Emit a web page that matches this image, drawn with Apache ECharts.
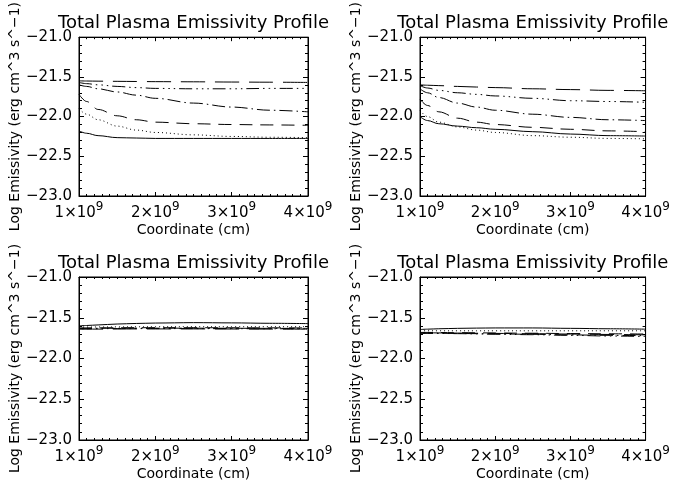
<!DOCTYPE html>
<html>
<head>
<meta charset="utf-8">
<script src="https://cdn.jsdelivr.net/npm/echarts@6/dist/echarts.min.js"></script>
<style>
html,body{margin:0;padding:0;background:#fff;}
#chart{width:673px;height:486px;}
</style>
</head>
<body>
<div id="chart"></div>
<script>
// ---- data ----
const xCoord = [1.0e9, 1.1e9, 1.25e9, 1.5e9, 1.75e9, 2.0e9, 2.5e9, 3.0e9, 3.5e9, 4.0e9]; // cm
const xTicks = ['1×10', '2×10', '3×10', '4×10'];
const yTicks = ['−23.0', '−22.5', '−22.0', '−21.5', '−21.0'];
const panelTitle = 'Total Plasma Emissivity Profile';
const xTitle = 'Coordinate (cm)';
const yTitle = 'Log Emissivity (erg cm^3 s^−1)';

// top-left panel
const tlSolid   = [-22.18, -22.21, -22.24, -22.265, -22.27, -22.275, -22.275, -22.275, -22.275, -22.275];
const tlDotted  = [-21.90, -21.97, -22.04, -22.12, -22.17, -22.20, -22.23, -22.25, -22.26, -22.265];
const tlDashed  = [-21.72, -21.81, -21.91, -21.99, -22.04, -22.07, -22.09, -22.10, -22.105, -22.11];
const tlDashDot = [-21.60, -21.62, -21.65, -21.69, -21.73, -21.77, -21.83, -21.88, -21.92, -21.94];
const tlDash3Dot= [-21.57, -21.585, -21.60, -21.62, -21.635, -21.645, -21.65, -21.65, -21.645, -21.645];
const tlLong    = [-21.55, -21.552, -21.554, -21.556, -21.558, -21.56, -21.562, -21.565, -21.567, -21.57];

// top-right panel
const trSolid   = [-22.00, -22.05, -22.09, -22.12, -22.14, -22.16, -22.19, -22.22, -22.24, -22.245];
const trDotted  = [-21.92, -22.00, -22.07, -22.13, -22.17, -22.20, -22.24, -22.26, -22.275, -22.28];
const trDashed  = [-21.78, -21.86, -21.94, -22.02, -22.07, -22.10, -22.135, -22.16, -22.18, -22.19];
const trDashDot = [-21.65, -21.70, -21.76, -21.83, -21.88, -21.92, -21.97, -22.01, -22.04, -22.05];
const trDash3Dot= [-21.61, -21.64, -21.67, -21.70, -21.72, -21.74, -21.77, -21.80, -21.81, -21.82];
const trLong    = [-21.60, -21.605, -21.61, -21.62, -21.628, -21.635, -21.65, -21.66, -21.67, -21.675];

// bottom-left panel
const blSolid   = [-21.60, -21.595, -21.588, -21.577, -21.57, -21.565, -21.56, -21.563, -21.568, -21.572];
const blDotted  = [-21.615, -21.614, -21.613, -21.612, -21.611, -21.61, -21.61, -21.61, -21.61, -21.61];
const blDashed  = [-21.625, -21.625, -21.624, -21.623, -21.622, -21.622, -21.622, -21.623, -21.624, -21.625];
const blDashDot = [-21.63, -21.63, -21.629, -21.628, -21.628, -21.628, -21.628, -21.629, -21.63, -21.63];
const blDash3Dot= [-21.635, -21.635, -21.634, -21.633, -21.633, -21.633, -21.633, -21.634, -21.635, -21.635];
const blLong    = [-21.64, -21.64, -21.639, -21.638, -21.637, -21.637, -21.637, -21.638, -21.639, -21.64];

// bottom-right panel
const brSolid   = [-21.645, -21.64, -21.635, -21.63, -21.627, -21.625, -21.625, -21.63, -21.635, -21.64];
const brDotted  = [-21.66, -21.66, -21.66, -21.66, -21.66, -21.66, -21.66, -21.66, -21.66, -21.66];
const brDashed  = [-21.68, -21.68, -21.681, -21.683, -21.685, -21.687, -21.69, -21.694, -21.697, -21.70];
const brDashDot = [-21.69, -21.69, -21.691, -21.693, -21.695, -21.698, -21.703, -21.71, -21.716, -21.72];
const brDash3Dot= [-21.69, -21.69, -21.692, -21.695, -21.698, -21.702, -21.708, -21.716, -21.724, -21.73];
const brLong    = [-21.685, -21.685, -21.686, -21.688, -21.69, -21.692, -21.696, -21.70, -21.705, -21.71];

const panels = [
  [tlSolid, tlDotted, tlDashed, tlDashDot, tlDash3Dot, tlLong],
  [trSolid, trDotted, trDashed, trDashDot, trDash3Dot, trLong],
  [blSolid, blDotted, blDashed, blDashDot, blDash3Dot, blLong],
  [brSolid, brDotted, brDashed, brDashDot, brDash3Dot, brLong]
];

// ---- styles ----
const FONT = 'DejaVu Sans';
const lineTypes = [
  'solid',
  [1, 3],
  [13, 8],
  [13, 4, 1.5, 4],
  [13, 4, 1.5, 4, 1.5, 4, 1.5, 4],
  [24, 10]
];
const gridBoxes = [
  {left: 79, top: 34, width: 229, height: 162},
  {left: 420, top: 34, width: 230, height: 162},
  {left: 79, top: 277, width: 229, height: 163},
  {left: 420, top: 277, width: 230, height: 163}
];

const grid = [], xAxis = [], yAxis = [], series = [];
gridBoxes.forEach((g, i) => {
  grid.push(Object.assign({show: true, borderColor: '#000', borderWidth: 1, backgroundColor: 'transparent'}, g));
  const xBase = {
    type: 'value', gridIndex: i, min: 1e9, max: 4e9, interval: 1e9,
    axisLine: {show: true, onZero: false, lineStyle: {color: '#000', width: 1}},
    axisTick: {show: true, inside: true, length: 4, lineStyle: {color: '#000'}},
    minorTick: {show: true, splitNumber: 10, length: 2, lineStyle: {color: '#000'}},
    splitLine: {show: false}, minorSplitLine: {show: false}
  };
  xAxis.push(Object.assign({}, xBase, {
    position: 'bottom',
    name: xTitle, nameLocation: 'middle', nameGap: 27,
    nameTextStyle: {fontFamily: FONT, fontSize: 14, color: '#000'},
    axisLabel: {
      show: true, margin: 5, color: '#000',
      formatter: v => '{a|' + xTicks[Math.round(v / 1e9) - 1] + '}{s|9}',
      rich: {
        a: {fontFamily: FONT, fontSize: 15, color: '#000', lineHeight: 20, verticalAlign: 'bottom'},
        s: {fontFamily: FONT, fontSize: 12, color: '#000', lineHeight: 20, verticalAlign: 'top'}
      }
    }
  }));
  xAxis.push(Object.assign({}, xBase, {
    position: 'top',
    name: panelTitle, nameLocation: 'middle', nameGap: 5,
    nameTextStyle: {fontFamily: FONT, fontSize: 18, color: '#000'},
    axisLabel: {show: false}
  }));
  const yBase = {
    type: 'value', gridIndex: i, min: -23, max: -21, interval: 0.5,
    axisLine: {show: true, onZero: false, lineStyle: {color: '#000', width: 1}},
    axisTick: {show: true, inside: true, length: 5, lineStyle: {color: '#000'}},
    minorTick: {show: true, splitNumber: 5, length: 3, lineStyle: {color: '#000'}},
    splitLine: {show: false}, minorSplitLine: {show: false}
  };
  yAxis.push(Object.assign({}, yBase, {
    position: 'left',
    name: yTitle, nameLocation: 'middle', nameGap: 57,
    nameTextStyle: {fontFamily: FONT, fontSize: 14, color: '#000'},
    axisLabel: {
      show: true, margin: 7, color: '#000', fontFamily: FONT, fontSize: 15,
      padding: [8, 0, 0, 0],
      formatter: v => yTicks[Math.round((v + 23) / 0.5)]
    }
  }));
  yAxis.push(Object.assign({}, yBase, {position: 'right', axisLabel: {show: false}}));

  panels[i].forEach((vals, k) => {
    series.push({
      type: 'line', xAxisIndex: 2 * i, yAxisIndex: 2 * i,
      data: xCoord.map((x, j) => [x, vals[j]]),
      showSymbol: false, symbol: 'none', smooth: 0.35, smoothMonotone: 'x',
      lineStyle: {color: '#000', width: 1, type: lineTypes[k]},
      animation: false, silent: true
    });
  });
});

const chart = echarts.init(document.getElementById('chart'), null, {renderer: 'canvas'});
chart.setOption({
  backgroundColor: '#fff',
  animation: false,
  grid, xAxis, yAxis, series
});
</script>
</body>
</html>
